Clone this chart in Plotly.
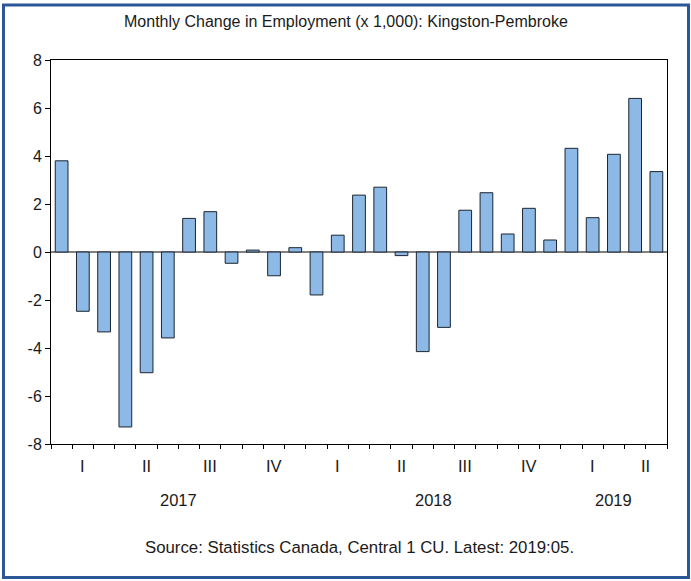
import plotly.graph_objects as go

months = ["2017-01","2017-02","2017-03","2017-04","2017-05","2017-06","2017-07","2017-08","2017-09","2017-10","2017-11","2017-12",
          "2018-01","2018-02","2018-03","2018-04","2018-05","2018-06","2018-07","2018-08","2018-09","2018-10","2018-11","2018-12",
          "2019-01","2019-02","2019-03","2019-04","2019-05"]
values = [3.80, -2.47, -3.33, -7.29, -5.03, -3.58, 1.40, 1.68, -0.47, 0.08, -0.99, 0.18,
          -1.79, 0.70, 2.37, 2.70, -0.15, -4.15, -3.14, 1.74, 2.47, 0.75, 1.82, 0.50,
          4.32, 1.43, 4.07, 6.40, 3.35]
quarter_labels = ["I","II","III","IV","I","II","III","IV","I","II"]
year_labels = ["2017","2018","2019"]
y_ticks = [-8, -6, -4, -2, 0, 2, 4, 6, 8]

n = len(months)
xs = list(range(n))

fig = go.Figure()
fig.add_trace(go.Bar(
    x=xs, y=values, width=0.6,
    marker=dict(color="#8CB9E5", line=dict(color="#1c2530", width=1)),
    hoverinfo="skip",
))

# Quarter boundaries (major ticks) and month boundaries (minor ticks)
major = [i - 0.5 for i in range(0, n + 1, 3)] + [n - 0.5]
minor = [i - 0.5 for i in range(0, n + 1)]

W, H = 691, 581
L, R, T, B = 51, 24, 60, 137
pw, ph = W - L - R, H - T - B

fig.update_layout(
    width=W, height=H,
    margin=dict(l=L, r=R, t=T, b=B, pad=0),
    paper_bgcolor="white", plot_bgcolor="white",
    showlegend=False,
    font=dict(family="Liberation Sans, Arial, sans-serif", size=16, color="#1a1a1a"),
    bargap=0.4,
)
fig.update_xaxes(
    range=[-0.5, n - 0.5], showgrid=False, zeroline=False,
    showline=True, linecolor="black", linewidth=1, mirror=True,
    tickmode="array", tickvals=major, ticktext=[""] * len(major),
    ticks="outside", ticklen=8, tickcolor="black", tickwidth=1,
    minor=dict(tickmode="array", tickvals=minor, ticks="outside", ticklen=4,
               tickcolor="black", tickwidth=1, showgrid=False),
)
fig.update_yaxes(
    range=[-8, 8], showgrid=False,
    zeroline=True, zerolinecolor="#808080", zerolinewidth=1.5,
    showline=True, linecolor="black", linewidth=1, mirror=True,
    tickmode="array", tickvals=y_ticks, ticktext=[str(v) for v in y_ticks],
    ticks="outside", ticklen=5, tickcolor="black", tickwidth=1,
    tickfont=dict(size=16),
)

def py(pix):
    return (H - B - pix) / ph

def px(pix):
    return (pix - L) / pw

# Quarter labels
for qi, lab in enumerate(quarter_labels):
    start = qi * 3
    end = min(start + 3, n)
    cx = (start + end - 1) / 2
    fig.add_annotation(x=cx, y=py(466), xref="x", yref="paper", text=lab,
                       showarrow=False, font=dict(size=16.5), yanchor="middle")

# Year labels
for yi, lab in enumerate(year_labels):
    start = yi * 12
    end = min(start + 12, n)
    cx = (start + end - 1) / 2
    fig.add_annotation(x=cx, y=py(500), xref="x", yref="paper", text=lab,
                       showarrow=False, font=dict(size=16.5), yanchor="middle")

fig.add_annotation(x=px(346), y=py(21), xref="paper", yref="paper",
                   text="Monthly Change in Employment (x 1,000): Kingston-Pembroke",
                   showarrow=False, font=dict(size=16), yanchor="middle")
fig.add_annotation(x=px(359), y=py(547), xref="paper", yref="paper",
                   text="Source: Statistics Canada, Central 1 CU. Latest: 2019:05.",
                   showarrow=False, font=dict(size=16.8), yanchor="middle")

# Outer blue frame
fig.add_shape(type="rect", xref="paper", yref="paper",
              x0=px(3.5), x1=px(688.5), y0=py(577.5), y1=py(5),
              line=dict(color="#2B5797", width=3), fillcolor="rgba(0,0,0,0)", layer="above")

fig.write_html("out.html", config={"displayModeBar": False},
               post_script="document.body.style.margin='0';document.body.style.overflow='hidden';")
